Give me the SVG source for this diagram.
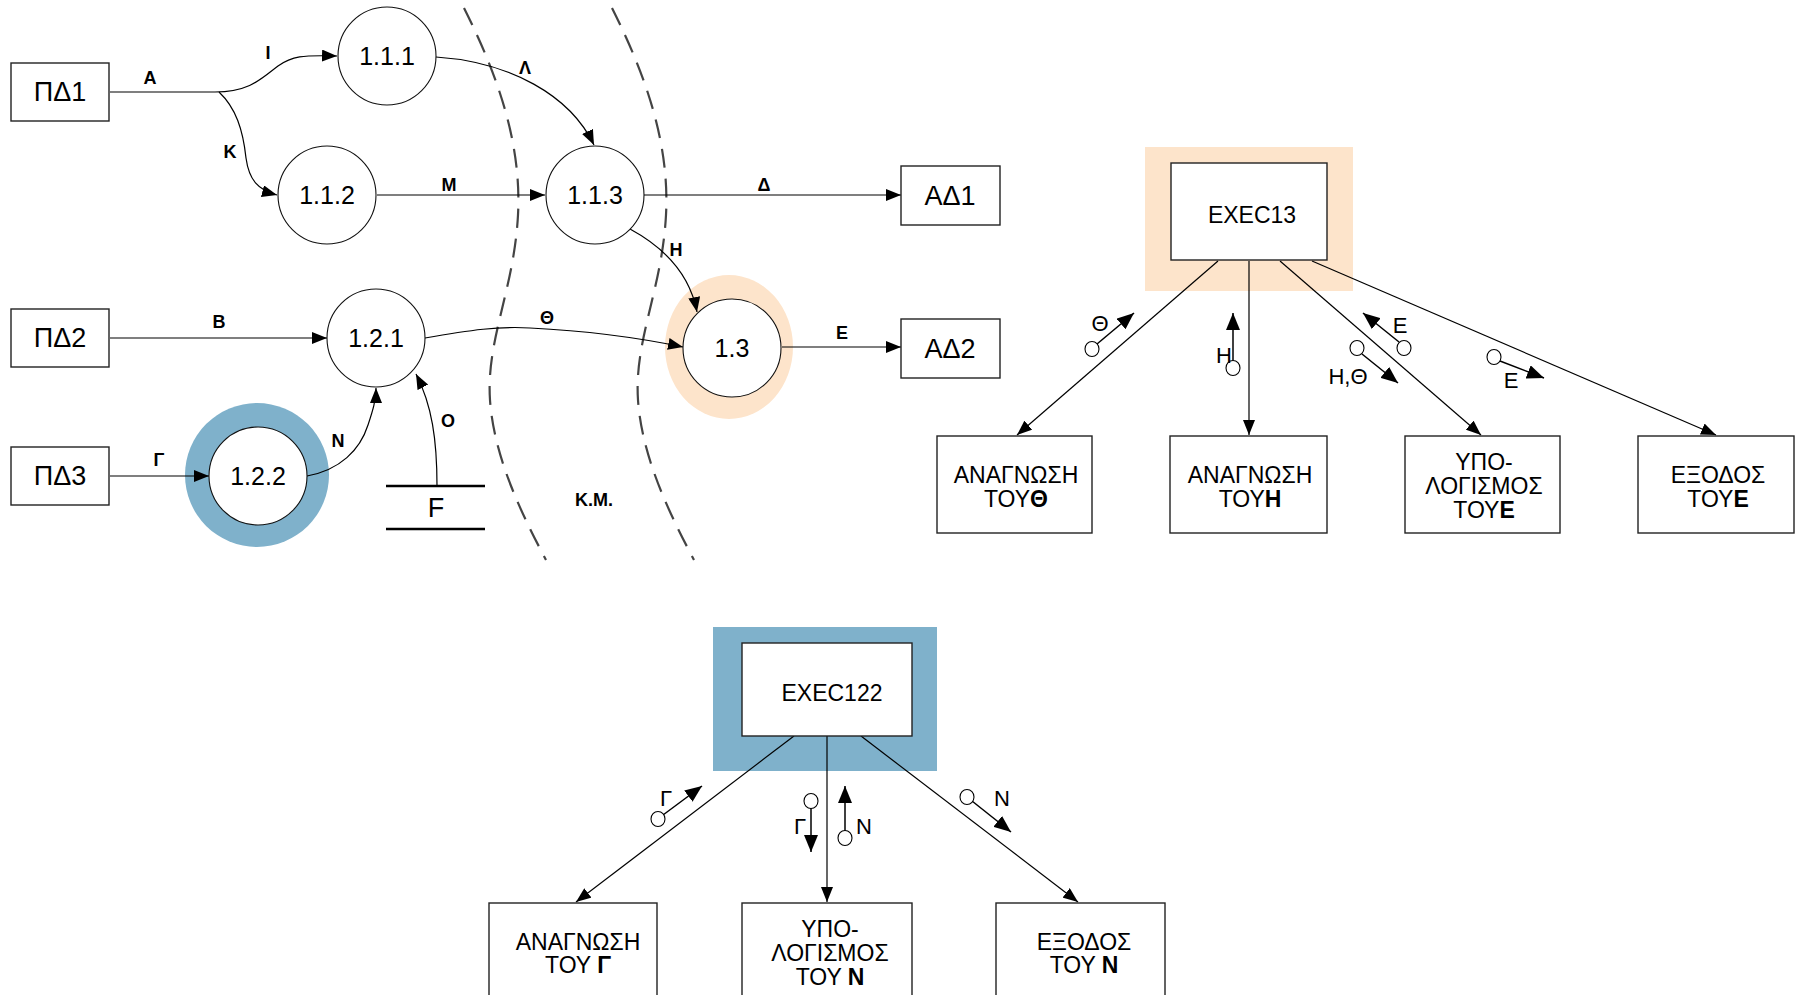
<svg xmlns="http://www.w3.org/2000/svg" width="1798" height="995" viewBox="0 0 1798 995">
  <style>
    text { font-family: "Liberation Sans", Arial, sans-serif; fill: #000; }
    .box { fill: #fff; stroke: #222; stroke-width: 1.4; }
    .proc { fill: #fff; stroke: #111; stroke-width: 1.1; }
    .big { font-size: 27px; text-anchor: middle; }
    .num { font-size: 25px; text-anchor: middle; }
    .lbl { font-size: 18px; font-weight: bold; text-anchor: middle; }
    .txt { font-size: 23px; text-anchor: middle; }
    .flagt { font-size: 22px; text-anchor: middle; }
    .edge-a { fill: none; stroke: #000; stroke-width: 1.2; marker-end: url(#arr); }
    .flag { fill: none; stroke: #000; stroke-width: 1.5; marker-end: url(#farr); }
    .dot { fill: #fff; stroke: #000; stroke-width: 1.1; }
    .bound { fill: none; stroke: #444; stroke-width: 2.2; stroke-dasharray: 19 11; }
  </style>
  <defs>
    <marker id="arr" markerUnits="userSpaceOnUse" markerWidth="16" markerHeight="12" refX="15" refY="6" orient="auto">
      <path d="M0,0 L15,6 L0,12 Z" fill="#000"/>
    </marker>
    <marker id="farr" markerUnits="userSpaceOnUse" markerWidth="18" markerHeight="14" refX="17" refY="7" orient="auto">
      <path d="M0,0 L17,7 L0,14 Z" fill="#000"/>
    </marker>
  </defs>

  <!-- boundary lines -->
  <g id="boundaries">
    <path class="bound" d="M464,8 C495,70 522,140 518,215 C514,290 486,340 490,400 C494,460 525,520 546,560"/>
    <path class="bound" d="M612,8 C643,70 670,140 666,215 C662,290 634,340 638,400 C642,460 673,520 694,560"/>
  </g>

  <!-- highlight rings -->
  <g id="highlights">
    <ellipse cx="257" cy="475" rx="72" ry="72" fill="#7FB1CB"/>
    <ellipse cx="729" cy="347" rx="64" ry="72" fill="#FDE4CB"/>
    <rect x="1145" y="147" width="208" height="144" fill="#FDE4CB"/>
    <rect x="713" y="627" width="224" height="144" fill="#7FB1CB"/>
  </g>

  <!-- connectors -->
  <g id="connectors">
    <path class="edge-a" d="M110,92 H215 C250,92 262,78 278,66 C292,56 302,55 337,56"/>
    <path class="edge-a" d="M219,92 C236,108 243,130 246,158 C249,180 258,190 277,195"/>
    <path class="edge-a" d="M377,195 H545"/>
    <path class="edge-a" d="M436,57 C510,62 570,95 594,145"/>
    <path class="edge-a" d="M644,195 H901"/>
    <path class="edge-a" d="M630,229 C665,248 690,275 697,312"/>
    <path class="edge-a" d="M110,338 H327"/>
    <path class="edge-a" d="M425,338 C470,330 500,326 530,328 C590,331 640,338 683,347"/>
    <path class="edge-a" d="M782,347 H901"/>
    <path class="edge-a" d="M110,476 H209"/>
    <path class="edge-a" d="M307,476 C340,470 360,450 368,425 C373,410 376,400 376,388"/>
    <path class="edge-a" d="M437,486 C437,440 432,405 416,374"/>

    <path class="edge-a" d="M1218,261 L1017,435"/>
    <path class="edge-a" d="M1249,261 L1249,435"/>
    <path class="edge-a" d="M1280,261 L1481,435"/>
    <path class="edge-a" d="M1312,261 L1716,435"/>

    <path class="edge-a" d="M794,736 L576,902"/>
    <path class="edge-a" d="M827,736 L827,902"/>
    <path class="edge-a" d="M861,736 L1078,902"/>

    <!-- flow labels -->
    <text class="lbl" x="150" y="84">Α</text>
    <text class="lbl" x="268" y="59">Ι</text>
    <text class="lbl" x="230" y="158">Κ</text>
    <text class="lbl" x="449" y="191">Μ</text>
    <text class="lbl" x="525" y="74">Λ</text>
    <text class="lbl" x="764" y="191">Δ</text>
    <text class="lbl" x="676" y="256">Η</text>
    <text class="lbl" x="219" y="328">Β</text>
    <text class="lbl" x="547" y="324">Θ</text>
    <text class="lbl" x="842" y="339">Ε</text>
    <text class="lbl" x="159" y="466">Γ</text>
    <text class="lbl" x="338" y="447">Ν</text>
    <text class="lbl" x="448" y="427">Ο</text>
    <text class="lbl" x="594" y="506">Κ.Μ.</text>
  </g>

  <!-- couples (data flags) -->
  <g id="couples">
    <path class="flag" d="M1097,344 L1134,313"/>
    <ellipse class="dot" cx="1092" cy="349" rx="7" ry="7.5"/>
    <text class="flagt" x="1100" y="331">Θ</text>

    <path class="flag" d="M1233,361 L1233,313"/>
    <ellipse class="dot" cx="1233" cy="368" rx="7" ry="7.5"/>
    <text class="flagt" x="1224" y="363">Η</text>

    <path class="flag" d="M1399,342 L1363,313"/>
    <ellipse class="dot" cx="1404" cy="348" rx="7" ry="7.5"/>
    <text class="flagt" x="1400" y="333">Ε</text>

    <path class="flag" d="M1362,354 L1398,383"/>
    <ellipse class="dot" cx="1357" cy="348" rx="7" ry="7.5"/>
    <text class="flagt" x="1348" y="384">Η,Θ</text>

    <path class="flag" d="M1500,361 L1544,378"/>
    <ellipse class="dot" cx="1494" cy="357" rx="7" ry="7.5"/>
    <text class="flagt" x="1511" y="388">Ε</text>

    <path class="flag" d="M663,815 L702,786"/>
    <ellipse class="dot" cx="658" cy="819" rx="7" ry="7.5"/>
    <text class="flagt" x="666" y="806">Γ</text>

    <path class="flag" d="M811,808 L811,852"/>
    <ellipse class="dot" cx="811" cy="801" rx="7" ry="7.5"/>
    <text class="flagt" x="800" y="834">Γ</text>

    <path class="flag" d="M845,831 L845,786"/>
    <ellipse class="dot" cx="845" cy="838" rx="7" ry="7.5"/>
    <text class="flagt" x="864" y="834">Ν</text>

    <path class="flag" d="M972,801 L1011,832"/>
    <ellipse class="dot" cx="967" cy="797" rx="7" ry="7.5"/>
    <text class="flagt" x="1002" y="806">Ν</text>
  </g>

  <!-- external entities -->
  <g id="pd1"><rect class="box" x="11" y="63" width="98" height="58"/><text class="big" x="60" y="101">ΠΔ1</text></g>
  <g id="pd2"><rect class="box" x="11" y="309" width="98" height="58"/><text class="big" x="60" y="347">ΠΔ2</text></g>
  <g id="pd3"><rect class="box" x="11" y="447" width="98" height="58"/><text class="big" x="60" y="485">ΠΔ3</text></g>
  <g id="ad1"><rect class="box" x="901" y="166" width="99" height="59"/><text class="big" x="950" y="205">ΑΔ1</text></g>
  <g id="ad2"><rect class="box" x="901" y="319" width="99" height="59"/><text class="big" x="950" y="358">ΑΔ2</text></g>

  <!-- processes -->
  <g id="p111"><circle class="proc" cx="387" cy="56" r="49"/><text class="num" x="387" y="65">1.1.1</text></g>
  <g id="p112"><circle class="proc" cx="327" cy="195" r="49"/><text class="num" x="327" y="204">1.1.2</text></g>
  <g id="p113"><circle class="proc" cx="595" cy="195" r="49"/><text class="num" x="595" y="204">1.1.3</text></g>
  <g id="p121"><circle class="proc" cx="376" cy="338" r="49"/><text class="num" x="376" y="347">1.2.1</text></g>
  <g id="p122"><circle class="proc" cx="258" cy="476" r="49"/><text class="num" x="258" y="485">1.2.2</text></g>
  <g id="p13"><circle class="proc" cx="732" cy="348" r="49"/><text class="num" x="732" y="357">1.3</text></g>

  <!-- data store -->
  <g id="storeF">
    <line x1="386" y1="486" x2="485" y2="486" stroke="#000" stroke-width="2.5"/>
    <line x1="386" y1="529" x2="485" y2="529" stroke="#000" stroke-width="2.5"/>
    <text class="big" x="436" y="517">F</text>
  </g>

  <!-- structure chart for 1.3 -->
  <g id="exec13"><rect class="box" x="1171" y="163" width="156" height="97"/><text class="txt" x="1252" y="223">EXEC13</text></g>
  <g id="read-theta"><rect class="box" x="937" y="436" width="155" height="97"/>
    <text class="txt" x="1016" y="483">ΑΝΑΓΝΩΣΗ</text>
    <text class="txt" x="1016" y="507">ΤΟΥ<tspan font-weight="bold">Θ</tspan></text></g>
  <g id="read-eta"><rect class="box" x="1170" y="436" width="157" height="97"/>
    <text class="txt" x="1250" y="483">ΑΝΑΓΝΩΣΗ</text>
    <text class="txt" x="1250" y="507">ΤΟΥ<tspan font-weight="bold">Η</tspan></text></g>
  <g id="calc-e"><rect class="box" x="1405" y="436" width="155" height="97"/>
    <text class="txt" x="1484" y="470">ΥΠΟ-</text>
    <text class="txt" x="1484" y="494">ΛΟΓΙΣΜΟΣ</text>
    <text class="txt" x="1484" y="518">ΤΟΥ<tspan font-weight="bold">Ε</tspan></text></g>
  <g id="out-e"><rect class="box" x="1638" y="436" width="156" height="97"/>
    <text class="txt" x="1718" y="483">ΕΞΟΔΟΣ</text>
    <text class="txt" x="1718" y="507">ΤΟΥ<tspan font-weight="bold">Ε</tspan></text></g>

  <!-- structure chart for 1.2.2 -->
  <g id="exec122"><rect class="box" x="742" y="643" width="170" height="93"/><text class="txt" x="832" y="701">EXEC122</text></g>
  <g id="read-gamma"><rect class="box" x="489" y="903" width="168" height="100"/>
    <text class="txt" x="578" y="950">ΑΝΑΓΝΩΣΗ</text>
    <text class="txt" x="578" y="973">ΤΟΥ <tspan font-weight="bold">Γ</tspan></text></g>
  <g id="calc-n"><rect class="box" x="742" y="903" width="170" height="100"/>
    <text class="txt" x="830" y="937">ΥΠΟ-</text>
    <text class="txt" x="830" y="961">ΛΟΓΙΣΜΟΣ</text>
    <text class="txt" x="830" y="985">ΤΟΥ <tspan font-weight="bold">Ν</tspan></text></g>
  <g id="out-n"><rect class="box" x="996" y="903" width="169" height="100"/>
    <text class="txt" x="1084" y="950">ΕΞΟΔΟΣ</text>
    <text class="txt" x="1084" y="973">ΤΟΥ <tspan font-weight="bold">Ν</tspan></text></g>
</svg>
